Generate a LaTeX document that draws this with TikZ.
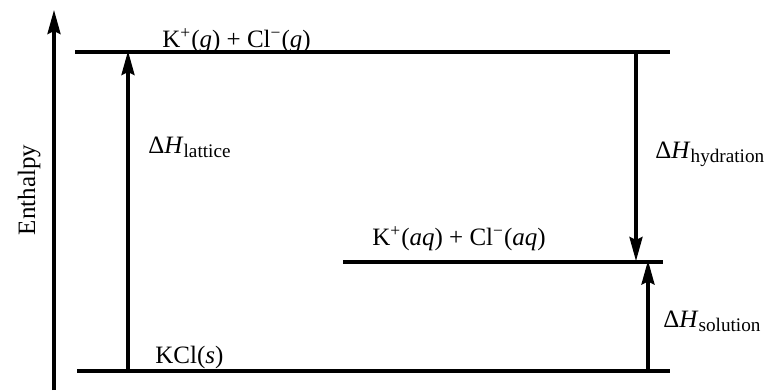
\documentclass[tikz,border=0pt]{standalone}
\usepackage{fontspec}
\setmainfont{Liberation Serif}
\usepackage{tikz}
\usetikzlibrary{arrows.meta}
\newcommand{\dH}[1]{Δ\textit{H}\raisebox{-2pt}{\fontsize{9.6}{11}\selectfont #1}}
\tikzset{
  lvl/.style   ={line width=1.6pt},
  enarr/.style ={-{Stealth[length=12pt, width=6.5pt, inset=1.5pt]},
                 line width=1.6pt},
  lbl/.style   ={inner sep=0pt, font=\fontsize{12.5}{15}\selectfont},
}
\begin{document}
\begin{tikzpicture}[x=0.5pt, y=-0.5pt]
\useasboundingbox (0,0) rectangle (768,392);
% enthalpy axis
\coordinate (axB) at (54,390);
\coordinate (axT) at (54,10);
\draw[enarr] (axB) -- (axT);
\node[lbl, rotate=90, anchor=base] (ent) at (35,190) {Enthalpy};
% levels
\coordinate (gasL) at (75,52);
\coordinate (gasR) at (670,52);
\coordinate (aqL)  at (343,262);
\coordinate (aqR)  at (663,262);
\coordinate (solL) at (77,371);
\coordinate (solR) at (670,371);
\draw[lvl] (gasL) -- (gasR);
\draw[lvl] (aqL) -- (aqR);
\draw[lvl] (solL) -- (solR);
\node[lbl, anchor=base west] (gas) at (162,47)
  {K\textsuperscript{+}(\textit{g}) + Cl\textsuperscript{−}(\textit{g})};
\node[lbl, anchor=base west] (aq) at (372,245)
  {K\textsuperscript{+}(\textit{aq}) + Cl\textsuperscript{−}(\textit{aq})};
\node[lbl, anchor=base west] (sol) at (155,363) {KCl(\textit{s})};
% enthalpy changes
\coordinate (latB) at (128,371);
\coordinate (latT) at (128,51);
\coordinate (hydT) at (636,52);
\coordinate (hydB) at (636,261);
\coordinate (slnB) at (648,371);
\coordinate (slnT) at (648,260.5);
\draw[enarr] (latB) -- (latT);
\draw[enarr] (hydT) -- (hydB);
\draw[enarr] (slnB) -- (slnT);
\node[lbl, anchor=base west] (lat) at (148,153) {\dH{lattice}};
\node[lbl, anchor=base west] (hyd) at (655,158) {\dH{hydration}};
\node[lbl, anchor=base west] (sln) at (663,327) {\dH{solution}};
\end{tikzpicture}
\end{document}
